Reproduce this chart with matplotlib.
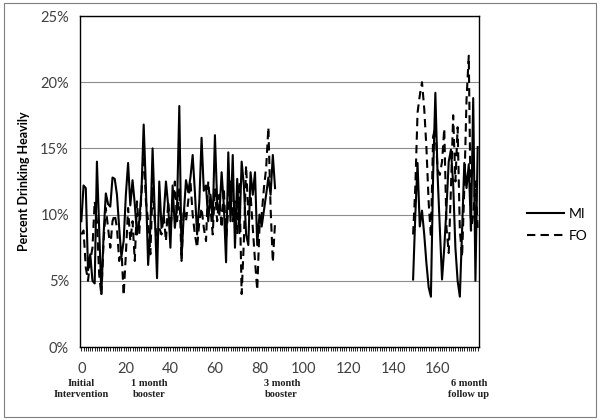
import matplotlib.pyplot as plt
from matplotlib.patches import Rectangle
from matplotlib.ticker import MultipleLocator, PercentFormatter
from matplotlib.transforms import blended_transform_factory

# days with data: first block after the intervention, second block before follow up
DAYS_A = list(range(0, 88))
DAYS_B = list(range(149, 179))

MI_A = [9.5, 12.2, 12.0, 5.8, 7.0, 5.0, 4.8, 14.0, 9.0, 4.0,
        8.5, 11.6, 10.8, 10.6, 12.8, 12.7, 11.5, 9.0, 6.8, 8.0,
        11.5, 13.9, 10.7, 12.6, 10.8, 8.5, 9.5, 11.7, 16.8, 12.0,
        6.2, 9.0, 15.0, 10.0, 5.2, 12.5, 9.0, 10.0, 12.5, 10.7,
        7.5, 12.2, 9.0, 10.7, 18.2, 6.7, 10.0, 12.6, 11.7, 12.8,
        14.5, 11.7, 8.5, 11.0, 15.8, 11.8, 12.2, 9.5, 11.5, 9.6,
        16.0, 11.0, 10.0, 13.2, 10.7, 6.4, 14.7, 9.5, 14.5, 7.5,
        12.7, 8.6, 14.0, 12.2, 8.5, 7.7, 13.2, 11.5, 13.2, 7.7,
        10.0, 9.1, 10.3, 11.5, 12.8, 11.5, 14.5, 12.0]
FO_A = [8.5, 8.8, 6.0, 5.0, 6.5, 7.5, 11.0, 9.5, 5.5, 3.9,
        8.0, 10.5, 9.0, 7.5, 9.5, 10.0, 9.0, 6.5, 7.5, 3.9,
        7.0, 10.5, 8.0, 9.5, 6.5, 11.0, 8.5, 11.6, 15.0, 11.0,
        9.5, 7.0, 12.0, 9.5, 8.0, 9.0, 8.5, 10.0, 8.0, 11.0,
        9.0, 10.5, 12.5, 9.5, 12.0, 6.5, 10.5, 9.5, 11.0, 12.5,
        10.0, 8.5, 7.5, 9.5, 10.5, 9.0, 8.0, 12.5, 10.5, 8.5,
        12.0, 9.5, 11.5, 9.0, 12.0, 8.0, 10.5, 12.5, 9.5, 11.0,
        8.5, 12.5, 4.0, 8.0, 13.7, 10.0, 11.5, 9.0, 6.5, 4.3,
        9.0, 10.0, 12.0, 13.5, 16.6, 10.5, 6.4, 9.4]
MI_B = [5.1, 10.0, 13.9, 9.1, 10.3, 8.5, 6.3, 4.5, 3.8, 13.0,
        19.2, 13.0, 9.0, 5.1, 7.5, 10.5, 14.0, 14.9, 12.3, 7.5,
        5.0, 3.8, 8.8, 13.9, 12.0, 13.8, 8.8, 18.8, 5.0, 15.1]
FO_B = [8.5, 12.1, 17.7, 19.0, 20.0, 18.0, 15.0, 10.9, 8.3, 15.9,
        16.6, 13.4, 13.0, 14.0, 16.5, 9.0, 7.1, 12.0, 17.5, 12.5,
        16.6, 8.8, 6.8, 12.0, 18.7, 22.0, 8.8, 10.0, 12.5, 9.0]

MILESTONE_DAYS = [0, 30.5, 90, 174]
MILESTONE_LABELS = ["Initial\nIntervention", "1 month\nbooster",
                    "3 month\nbooster", "6 month\nfollow up"]

plt.rcParams['font.family'] = ['Lato', 'DejaVu Sans']

fig = plt.figure(figsize=(6.01, 4.19), dpi=100)
ax = fig.add_axes([80 / 601, 1 - 347 / 419, 399 / 601, 331 / 419])

ax.plot(DAYS_A, MI_A, color='black', lw=1.5, label='MI')
ax.plot(DAYS_A, FO_A, color='black', lw=1.5, dashes=(4, 2.5), label='FO')
ax.plot(DAYS_B, MI_B, color='black', lw=1.5)
ax.plot(DAYS_B, FO_B, color='black', lw=1.5, dashes=(4, 2.5))

ax.set_xlim(-0.6, 178.6)
ax.set_ylim(0, 25)
ax.yaxis.set_major_locator(MultipleLocator(5))
ax.yaxis.set_major_formatter(PercentFormatter(decimals=0))
ax.set_xticks(range(0, 161, 20))
ax.xaxis.set_minor_locator(MultipleLocator(1))
ax.grid(axis='y', color='#8c8c8c', lw=0.8)
ax.set_axisbelow(True)
for s in ax.spines.values():
    s.set_color('black')
    s.set_linewidth(1.0)
ax.tick_params(axis='y', length=0, pad=8, labelsize=10.5, labelcolor='#404040')
ax.tick_params(axis='x', which='both', direction='out', length=3, width=0.6,
               pad=8, labelsize=10.5, labelcolor='#404040')

ax.set_ylabel('Percent Drinking Heavily', fontsize=9, fontweight='bold')
ax.yaxis.set_label_coords(-0.125, 0.5)

trans = blended_transform_factory(ax.transData, ax.transAxes)
for d, lab in zip(MILESTONE_DAYS, MILESTONE_LABELS):
    ax.text(d, -0.097, lab, transform=trans, ha='center', va='top',
            fontsize=7.5, fontweight='bold', family='Liberation Serif',
            linespacing=1.25, color='#202020')

fig.legend(loc='center left', bbox_to_anchor=(520 / 601, 1 - 225 / 419),
           frameon=False, fontsize=10, handlelength=2.7, handletextpad=0.3,
           labelspacing=0.75, borderpad=0)

fig.add_artist(Rectangle((4 / 601, 2 / 419), 592 / 601, 414 / 419,
                         transform=fig.transFigure, fill=False,
                         edgecolor='#7f7f7f', lw=0.8))

fig.savefig('out.png', dpi=100)
